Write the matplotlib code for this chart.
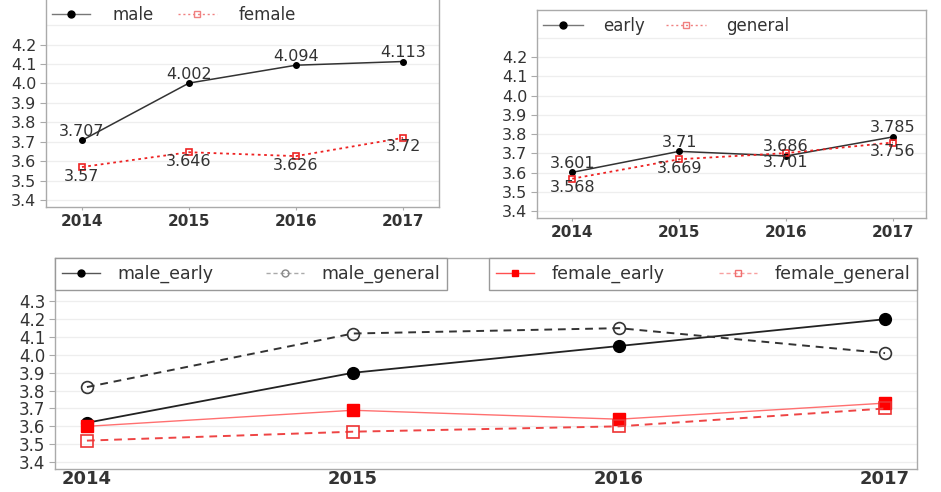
import matplotlib
matplotlib.use("Agg")
import matplotlib.pyplot as plt
from matplotlib.lines import Line2D

plt.rcParams["font.family"] = ["DejaVu Sans"]

years = [2014, 2015, 2016, 2017]

# top-left: by sex
male = [3.707, 4.002, 4.094, 4.113]
female = [3.57, 3.646, 3.626, 3.72]

# top-right: by group
early = [3.601, 3.71, 3.686, 3.785]
general = [3.568, 3.669, 3.701, 3.756]

# bottom: sex x group
male_early = [3.62, 3.90, 4.05, 4.20]
male_general = [3.82, 4.12, 4.15, 4.01]
female_early = [3.60, 3.69, 3.64, 3.73]
female_general = [3.52, 3.57, 3.60, 3.70]

top_ticks = [3.4, 3.5, 3.6, 3.7, 3.8, 3.9, 4.0, 4.1, 4.2]
bottom_ticks = [3.4, 3.5, 3.6, 3.7, 3.8, 3.9, 4.0, 4.1, 4.2, 4.3]
grid_levels = [3.4, 3.5, 3.6, 3.7, 3.8, 3.9, 4.0, 4.1, 4.2, 4.3]

W, H = 941, 492
SPINE = "#aaaaaa"
TXT = "#333333"
RED = "#ee2222"


def px_axes(fig, left, top, right, bottom):
    return fig.add_axes([left / W, 1 - bottom / H, (right - left) / W, (bottom - top) / H])


def style(ax, yticks, xsize, ysize, xbold):
    for s in ax.spines.values():
        s.set_color(SPINE)
        s.set_linewidth(1.0)
    for g in grid_levels:
        ax.axhline(g, color="#eeeeee", lw=0.9, zorder=0)
    ax.set_yticks(yticks)
    ax.set_yticklabels([f"{v:.1f}" for v in yticks])
    ax.set_xticks(years)
    ax.set_xticklabels([str(y) for y in years])
    ax.tick_params(axis="y", length=4, color=SPINE, pad=3, labelsize=ysize, labelcolor=TXT)
    ax.tick_params(axis="x", length=2, color=SPINE, pad=3, labelsize=xsize, labelcolor=TXT)
    if xbold:
        for t in ax.get_xticklabels():
            t.set_fontweight("bold")


fig = plt.figure(figsize=(W / 100, H / 100), dpi=100)

# ---- top-left ----
ax1 = px_axes(fig, 46, -2, 439, 207)
ax1.plot(years, male, color="#333333", lw=1.1, marker="o", ms=4, mfc="black", mec="black", zorder=3)
ax1.plot(years, female, color=RED, lw=1.3, ls=(0, (1.5, 2)), marker="s", ms=4.5,
         mfc="none", mec=RED, mew=1.2, zorder=3)
for x, v in zip(years, male):
    ax1.annotate(f"{v:g}", (x, v), xytext=(0, 6.5), textcoords="offset points",
                 ha="center", va="center", fontsize=11.5, color=TXT)
for x, v in zip(years, female):
    ax1.annotate(f"{v:g}", (x, v), xytext=(0, -6.5), textcoords="offset points",
                 ha="center", va="center", fontsize=11.5, color=TXT)
ax1.set_xlim(2013.664, 2017.336)
ax1.set_ylim(3.364, 4.44)
style(ax1, top_ticks, 11, 11.5, True)
h1 = [Line2D([], [], color="#777777", lw=1, marker="o", ms=5, mfc="black", mec="black"),
      Line2D([], [], color="#f08080", lw=1, ls=(0, (1.5, 2)), marker="s", ms=5,
             mfc="none", mec="#f08080")]
ax1.legend(h1, ["male", "female"], loc="center left", bbox_to_anchor=(6 / 393, 1 - 17 / 209),
           ncol=2, frameon=False, fontsize=12, borderpad=0, borderaxespad=0,
           handlelength=2.3, handletextpad=1.3, columnspacing=1.5, labelcolor=TXT)

# ---- top-right ----
ax2 = px_axes(fig, 537, 10, 926, 218)
ax2.plot(years, early, color="#333333", lw=1.1, marker="o", ms=4, mfc="black", mec="black", zorder=3)
ax2.plot(years, general, color=RED, lw=1.3, ls=(0, (1.5, 2)), marker="s", ms=4.5,
         mfc="none", mec=RED, mew=1.2, zorder=3)
for x, v in zip(years, early):
    ax2.annotate(f"{v:g}", (x, v), xytext=(0, 6.5), textcoords="offset points",
                 ha="center", va="center", fontsize=11.5, color=TXT)
for x, v in zip(years, general):
    ax2.annotate(f"{v:g}", (x, v), xytext=(0, -6.5), textcoords="offset points",
                 ha="center", va="center", fontsize=11.5, color=TXT)
ax2.set_xlim(2013.67, 2017.31)
ax2.set_ylim(3.364, 4.444)
style(ax2, top_ticks, 11, 11.5, True)
h2 = [Line2D([], [], color="#777777", lw=1, marker="o", ms=5, mfc="black", mec="black"),
      Line2D([], [], color="#f08080", lw=1, ls=(0, (1.5, 2)), marker="s", ms=5,
             mfc="none", mec="#f08080")]
ax2.legend(h2, ["early", "general"], loc="center left", bbox_to_anchor=(6 / 389, 1 - 16 / 208),
           ncol=2, frameon=False, fontsize=12, borderpad=0, borderaxespad=0,
           handlelength=2.4, handletextpad=1.2, columnspacing=1.3, labelcolor=TXT)

# ---- bottom ----
ax3 = px_axes(fig, 55, 258, 917, 469)
ax3.plot(years, male_early, color="#222222", lw=1.3, marker="o", ms=8.5,
         mfc="black", mec="black", zorder=3)
ax3.plot(years, male_general, color="#333333", lw=1.4, ls=(0, (4, 3)), marker="o", ms=8.5,
         mfc="none", mec="#333333", mew=1.2, zorder=3)
ax3.plot(years, female_early, color="#ff7070", lw=1.0, marker="s", ms=8.5,
         mfc="#ff0000", mec="#ff0000", zorder=3)
ax3.plot(years, female_general, color="#ee4444", lw=1.4, ls=(0, (4, 3)), marker="s", ms=8.5,
         mfc="none", mec="#ee3333", mew=1.2, zorder=3)
ax3.set_xlim(2013.88, 2017.12)
ax3.set_ylim(3.361, 4.543)
style(ax3, bottom_ticks, 13, 12, True)
ax3.tick_params(axis="x", pad=0.5, length=0)

hm = [Line2D([], [], color="#555555", lw=1, marker="o", ms=5, mfc="black", mec="black"),
      Line2D([], [], color="#aaaaaa", lw=1, ls=(0, (3, 2)), marker="o", ms=5,
             mfc="none", mec="#888888")]
hf = [Line2D([], [], color="#ff5050", lw=1, marker="s", ms=5, mfc="#ff0000", mec="#ff0000"),
      Line2D([], [], color="#f8a0a0", lw=1, ls=(0, (3, 2)), marker="s", ms=5,
             mfc="none", mec="#f07070")]
lh = 36 / 211
kw = dict(loc="upper left", mode="expand", ncol=2, fontsize=12.5, borderaxespad=0,
          handlelength=2.2, handletextpad=1.0, fancybox=False, framealpha=1,
          edgecolor="#999999", labelcolor=TXT)
leg1 = ax3.legend(hm, ["male_early", "male_general"], bbox_to_anchor=(0, 1 - lh, 392 / 862, lh), **kw)
leg1.get_frame().set_linewidth(1.0)
ax3.add_artist(leg1)
leg2 = ax3.legend(hf, ["female_early", "female_general"],
                  bbox_to_anchor=(434 / 862, 1 - lh, 428 / 862, lh), **kw)
leg2.get_frame().set_linewidth(1.0)

fig.savefig("out.png", dpi=100)
